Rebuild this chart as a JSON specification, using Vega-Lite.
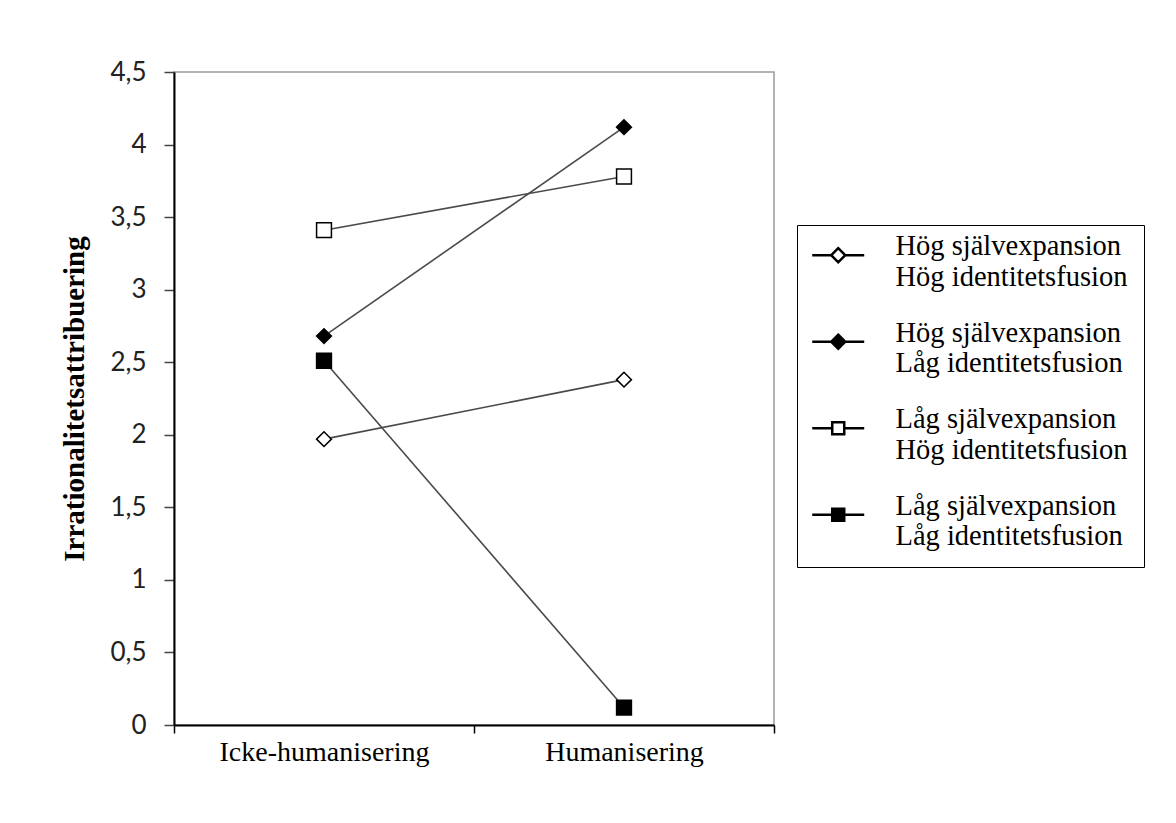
{
  "$schema": "https://vega.github.io/schema/vega-lite/v6.json",
  "autosize": "none",
  "width": 600,
  "height": 653,
  "padding": {"left": 174, "top": 72, "right": 402, "bottom": 98},
  "background": "white",
  "config": {
    "font": "Liberation Serif",
    "view": {"stroke": "#9a9a9a", "strokeWidth": 1.5}
  },
  "data": {
    "values": [
      {"cond": "Icke-humanisering", "group": "Hög självexpansion|Hög identitetsfusion", "value": 1.97},
      {"cond": "Humanisering", "group": "Hög självexpansion|Hög identitetsfusion", "value": 2.38},
      {"cond": "Icke-humanisering", "group": "Hög självexpansion|Låg identitetsfusion", "value": 2.68},
      {"cond": "Humanisering", "group": "Hög självexpansion|Låg identitetsfusion", "value": 4.12},
      {"cond": "Icke-humanisering", "group": "Låg självexpansion|Hög identitetsfusion", "value": 3.41},
      {"cond": "Humanisering", "group": "Låg självexpansion|Hög identitetsfusion", "value": 3.78},
      {"cond": "Icke-humanisering", "group": "Låg självexpansion|Låg identitetsfusion", "value": 2.51},
      {"cond": "Humanisering", "group": "Låg självexpansion|Låg identitetsfusion", "value": 0.12}
    ]
  },
  "encoding": {
    "x": {
      "field": "cond",
      "type": "nominal",
      "sort": ["Icke-humanisering", "Humanisering"],
      "scale": {"type": "band", "paddingInner": 0, "paddingOuter": 0},
      "axis": {
        "title": null,
        "labelAngle": 0,
        "tickBand": "extent",
        "domainColor": "black",
        "domainWidth": 2,
        "tickColor": "black",
        "tickWidth": 1.5,
        "tickSize": 8,
        "labelFontSize": 28,
        "labelLimit": 400,
        "labelColor": "black",
        "labelPadding": 5
      }
    },
    "y": {
      "field": "value",
      "type": "quantitative",
      "scale": {"domain": [0, 4.5], "nice": false, "zero": true},
      "axis": {
        "title": "Irrationalitetsattribuering",
        "titleFontSize": 29,
        "titleFontWeight": "bold",
        "titleColor": "black",
        "titlePadding": 20,
        "values": [0, 0.5, 1, 1.5, 2, 2.5, 3, 3.5, 4, 4.5],
        "labelExpr": "replace(format(datum.value, '~g'), '.', ',')",
        "grid": false,
        "domainColor": "black",
        "domainWidth": 2,
        "tickColor": "#444",
        "tickWidth": 1.5,
        "tickSize": 10,
        "labelFont": "Lato",
        "labelFontSize": 26,
        "labelColor": "#222",
        "labelPadding": 18
      }
    }
  },
  "resolve": {"scale": {"shape": "independent"}, "legend": {"shape": "independent"}},
  "layer": [
    {
      "mark": {"type": "line", "stroke": "#4a4a4a", "strokeWidth": 1.6},
      "encoding": {"detail": {"field": "group"}}
    },
    {
      "mark": {"type": "point", "filled": false, "stroke": "black", "strokeWidth": 1.5, "size": 220, "opacity": 1},
      "encoding": {
        "shape": {
          "field": "group",
          "type": "nominal",
          "scale": {
            "domain": ["Hög självexpansion|Hög identitetsfusion", "Hög självexpansion|Låg identitetsfusion", "Låg självexpansion|Hög identitetsfusion", "Låg självexpansion|Låg identitetsfusion"],
            "range": ["diamond", "diamond", "square", "square"]
          },
          "legend": null
        },
        "fill": {
          "field": "group",
          "type": "nominal",
          "scale": {
            "domain": ["Hög självexpansion|Hög identitetsfusion", "Hög självexpansion|Låg identitetsfusion", "Låg självexpansion|Hög identitetsfusion", "Låg självexpansion|Låg identitetsfusion"],
            "range": ["white", "black", "white", "black"]
          },
          "legend": null
        }
      }
    },
    {
      "mark": {"type": "point", "filled": false, "stroke": "black", "strokeWidth": 2.5, "size": 144, "opacity": 0},
      "encoding": {
        "shape": {
          "field": "group",
          "type": "nominal",
          "scale": {
            "domain": ["Hög självexpansion|Hög identitetsfusion", "Hög självexpansion|Låg identitetsfusion", "Låg självexpansion|Hög identitetsfusion", "Låg självexpansion|Låg identitetsfusion"],
            "range": [
              "M-2.5,0H0.66M3,0H6.16M1.83,-1.17L3,0L1.83,1.17L0.66,0ZM1.83,-1.17L0.66,0L1.83,1.17L3,0Z",
              "M-2.5,0H0.66M3,0H6.16M1.83,-1.17L3,0L1.83,1.17L0.66,0Z",
              "M-2.5,0H0.83M2.83,0H6.16M0.83,-1H2.83V1H0.83ZM0.83,-1V1H2.83V-1Z",
              "M-2.5,0H0.83M2.83,0H6.16M0.83,-1H2.83V1H0.83Z"
            ]
          },
          "legend": {
            "title": null,
            "orient": "none",
            "legendX": 623,
            "legendY": 153,
            "strokeColor": "black",
            "fillColor": "white",
            "padding": 16,
            "symbolSize": 144,
            "symbolStrokeWidth": 2.5,
            "symbolOpacity": 1,
            "labelOffset": 54,
            "labelFontSize": 28.5,
            "labelColor": "black",
            "labelLimit": 400,
            "labelBaseline": "alphabetic",
            "rowPadding": 26.5,
            "labelExpr": "split(datum.label, '|')",
            "encode": {
              "labels": {
                "lineHeight": {"value": 31}
              }
            }
          }
        },
        "fill": {
          "field": "group",
          "type": "nominal",
          "legend": null
        }
      }
    }
  ]
}
